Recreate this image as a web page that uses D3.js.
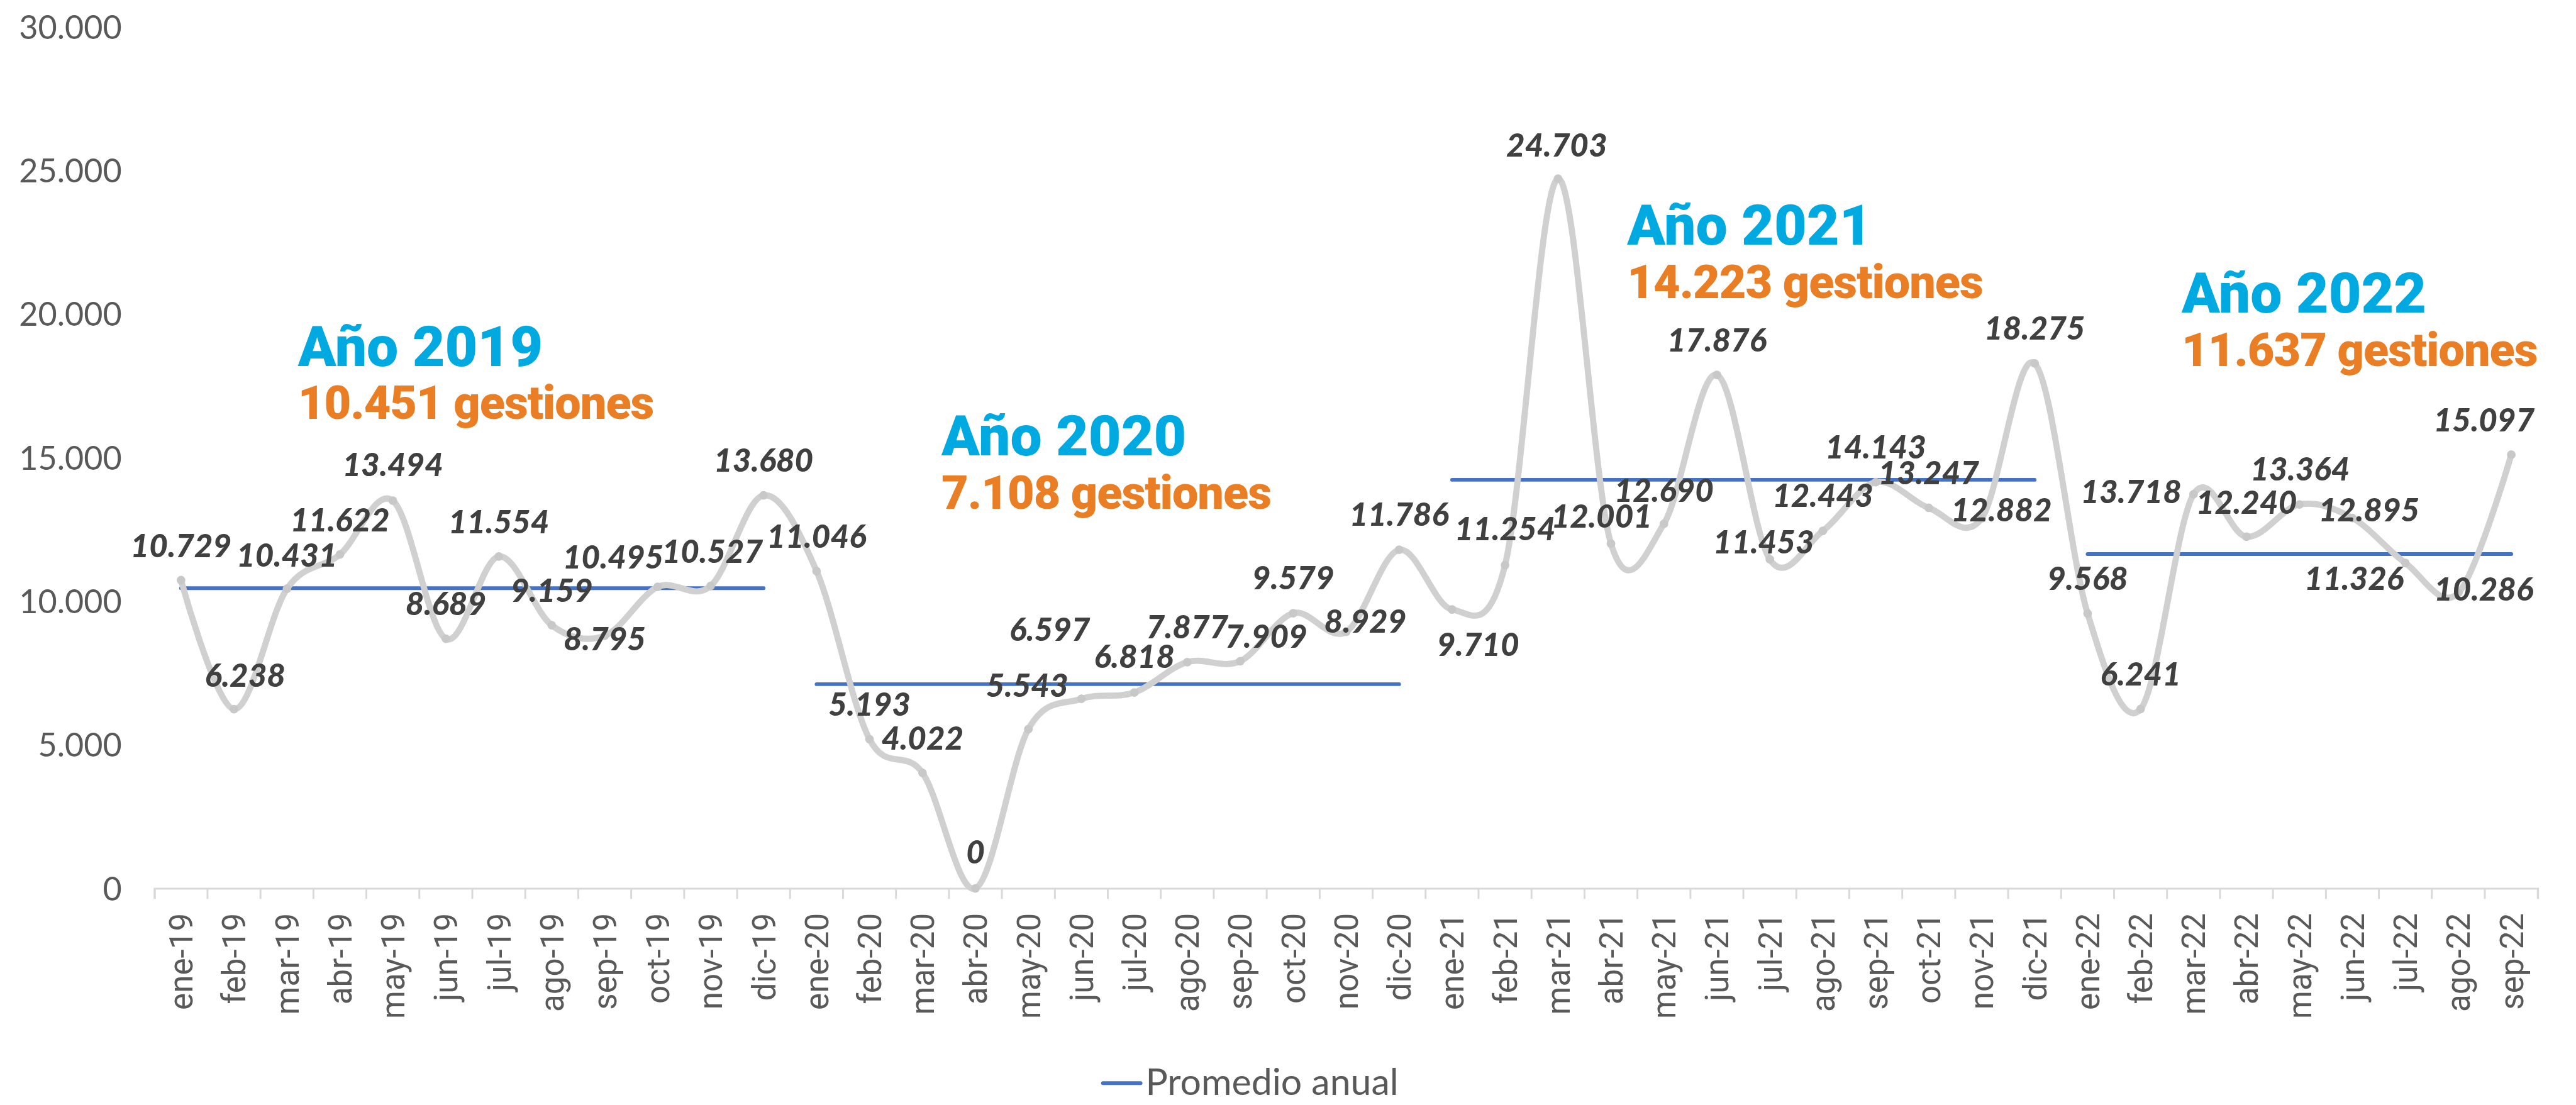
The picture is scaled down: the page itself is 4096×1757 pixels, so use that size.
<!DOCTYPE html>
<html>
<head>
<meta charset="utf-8">
<script src="https://cdn.jsdelivr.net/npm/d3@7"></script>
<style>
  html, body { margin: 0; padding: 0; background: #fff; overflow: hidden; }
</style>
</head>
<body>
<div id="chart"></div>
<script>
/* chart data */
const categories = [
  "ene-19","feb-19","mar-19","abr-19","may-19","jun-19","jul-19","ago-19","sep-19","oct-19","nov-19","dic-19",
  "ene-20","feb-20","mar-20","abr-20","may-20","jun-20","jul-20","ago-20","sep-20","oct-20","nov-20","dic-20",
  "ene-21","feb-21","mar-21","abr-21","may-21","jun-21","jul-21","ago-21","sep-21","oct-21","nov-21","dic-21",
  "ene-22","feb-22","mar-22","abr-22","may-22","jun-22","jul-22","ago-22","sep-22"
];
const gestiones = [
  10729, 6238, 10431, 11622, 13494, 8689, 11554, 9159, 8795, 10495, 10527, 13680,
  11046, 5193, 4022, 0, 5543, 6597, 6818, 7877, 7909, 9579, 8929, 11786,
  9710, 11254, 24703, 12001, 12690, 17876, 11453, 12443, 14143, 13247, 12882, 18275,
  9568, 6241, 13718, 12240, 13364, 12895, 11326, 10286, 15097
];
const years = ["2019", "2020", "2021", "2022"];
const yearSuffix = ["19", "20", "21", "22"];
const promedioAnual = [10451, 7108, 14223, 11637];
const yTicks = [0, 5000, 10000, 15000, 20000, 25000, 30000];
const legendLabel = "Promedio anual";

/* label nudges, [dx, dy] from the marker (layout only) */
const labelOffsets = [
  [0,-37],[18,-36],[0,-36],[0,-37],[0,-40],[0,-38],[0,-37],[0,-38],[0,24],[-72,-30],[3,-37],[0,-38],
  [0,-38],[0,-38],[0,-38],[0,-40],[-2,-52],[-51,-94],[0,-40],[0,-38],[42,-22],[0,-39],[31,1],[0,-39],
  [42,75],[0,-40],[-2,-36],[-15,-26],[0,-36],[0,-38],[-10,-10],[0,-39],[0,-38],[0,-38],[32,5],[0,-38],
  [0,-38],[0,-38],[-101,14],[0,-37],[1,-39],[27,6],[-83,44],[41,12],[-44,-38]
];
/* where each year's note sits (left x, baseline of first line) */
const notePos = [[482, 592], [1523, 737], [2632, 396], [3529, 506]];

const S = 0.983;
const fmt = d3.formatLocale({decimal: ",", thousands: ".", grouping: [3], currency: ["", ""]}).format(",d");

const svg = d3.select("#chart")
  .append("svg")
  .attr("width", 4096)
  .attr("height", 1757);

const g = svg.append("g").attr("transform", `scale(${S})`);

const x = d3.scaleBand().domain(categories).range([250, 4105]).padding(0);
const y = d3.scaleLinear().domain([0, 30000]).range([1437, 43]);
const cx = c => x(c) + x.bandwidth() / 2;

/* y axis labels only */
const yAxis = g.append("g")
  .attr("transform", "translate(197,0)")
  .call(d3.axisLeft(y).tickValues(yTicks).tickSize(0).tickPadding(0).tickFormat(fmt));
yAxis.select(".domain").remove();
yAxis.selectAll("text")
  .attr("font-family", "Lato, sans-serif")
  .attr("font-size", 53)
  .attr("fill", "#595959")
  .attr("dy", "0.36em");

/* x axis, ticks between categories */
const xAxis = g.append("g")
  .attr("transform", "translate(0,1437)")
  .call(d3.axisBottom(x).tickSizeOuter(0).tickSize(17));
xAxis.select(".domain").attr("stroke", "#d9d9d9").attr("stroke-width", 3);
xAxis.selectAll(".tick line")
  .attr("stroke", "#d9d9d9").attr("stroke-width", 3)
  .attr("x1", -x.bandwidth() / 2).attr("x2", -x.bandwidth() / 2);
xAxis.append("line")
  .attr("x1", 4105).attr("x2", 4105).attr("y1", 0).attr("y2", 17)
  .attr("stroke", "#d9d9d9").attr("stroke-width", 3);
xAxis.selectAll(".tick text")
  .attr("font-family", "Roboto, sans-serif")
  .attr("font-size", 52)
  .attr("fill", "#595959")
  .attr("transform", "rotate(-90)")
  .attr("text-anchor", "end")
  .attr("x", -40)
  .attr("y", 0)
  .attr("dy", "0.36em");

/* annual averages */
years.forEach((yr, k) => {
  const idx = categories.map((c, i) => c.endsWith("-" + yearSuffix[k]) ? i : -1).filter(i => i >= 0);
  g.append("line")
    .attr("x1", cx(categories[idx[0]]))
    .attr("x2", cx(categories[idx[idx.length - 1]]))
    .attr("y1", y(promedioAnual[k]))
    .attr("y2", y(promedioAnual[k]))
    .attr("stroke", "#4472C4")
    .attr("stroke-width", 6)
    .attr("stroke-linecap", "round");
});

/* monthly series */
const line = d3.line()
  .x((d, i) => cx(categories[i]))
  .y(d => y(d))
  .curve(d3.curveCardinal.tension(0));

g.append("path")
  .datum(gestiones)
  .attr("d", line)
  .attr("fill", "none")
  .attr("stroke", "#d0d0d0")
  .attr("stroke-width", 10)
  .attr("stroke-linejoin", "round");

g.selectAll(".pt")
  .data(gestiones)
  .enter().append("circle")
  .attr("class", "pt")
  .attr("cx", (d, i) => cx(categories[i]))
  .attr("cy", d => y(d))
  .attr("r", 7)
  .attr("fill", "#c8c8c8");

g.selectAll(".lbl")
  .data(gestiones)
  .enter().append("text")
  .attr("class", "lbl")
  .attr("x", (d, i) => cx(categories[i]) + labelOffsets[i][0])
  .attr("y", (d, i) => y(d) + labelOffsets[i][1])
  .attr("text-anchor", "middle")
  .attr("font-family", "Lato, sans-serif")
  .attr("font-style", "italic")
  .attr("font-weight", 900)
  .attr("font-size", 52)
  .attr("fill", "#404040")
  .text(d => fmt(d));

/* year notes */
years.forEach((yr, k) => {
  const t = g.append("g").attr("transform", `translate(${notePos[k][0]},${notePos[k][1]})`);
  t.append("text")
    .attr("font-family", "Roboto, sans-serif")
    .attr("font-weight", 900)
    .attr("font-size", 91)
    .attr("letter-spacing", 0)
    .attr("fill", "#00A9E0")
    .text("Año " + yr);
  t.append("text")
    .attr("y", 86)
    .attr("font-family", "Roboto, sans-serif")
    .attr("font-weight", 900)
    .attr("font-size", 75)
    .attr("letter-spacing", -1)
    .attr("fill", "#E97E24")
    .text(fmt(promedioAnual[k]) + " gestiones");
});

/* legend */
const lg = g.append("g").attr("transform", "translate(1784,1752)");
lg.append("line")
  .attr("x1", 0).attr("x2", 61).attr("y1", 0).attr("y2", 0)
  .attr("stroke", "#4472C4").attr("stroke-width", 6).attr("stroke-linecap", "round");
lg.append("text")
  .attr("x", 69).attr("y", 19)
  .attr("font-family", "Lato, sans-serif")
  .attr("font-size", 60)
  .attr("fill", "#595959")
  .text(legendLabel);
</script>
</body>
</html>
